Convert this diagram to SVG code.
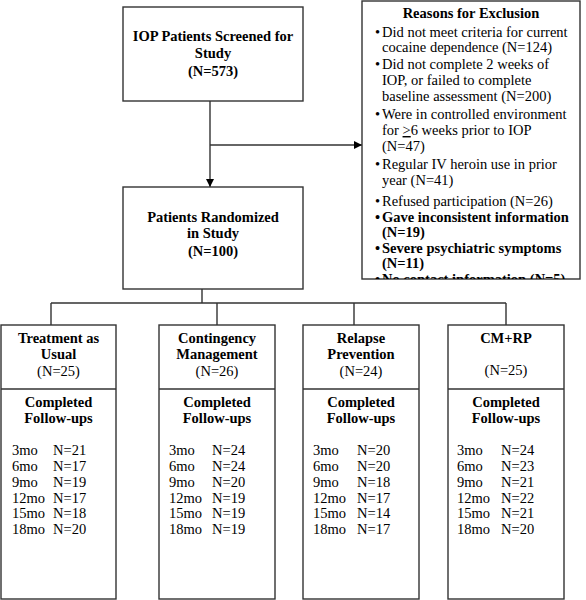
<svg xmlns="http://www.w3.org/2000/svg" width="586" height="600" viewBox="0 0 586 600">
<style>
text{font-family:"Liberation Serif","Times New Roman",serif;font-size:14.5px;fill:#000}
.b{font-weight:bold}
.c{text-anchor:middle}
.box{fill:#fff;stroke:#333;stroke-width:1.4}
.ln{fill:none;stroke:#333;stroke-width:1.4}
</style>
<defs>
<marker id="ah" markerWidth="8" markerHeight="8" refX="8" refY="4" orient="auto" markerUnits="userSpaceOnUse">
<path d="M0,0 L8,4 L0,8 Z" fill="#000"/>
</marker>
<clipPath id="exclip"><rect x="362" y="1" width="218" height="278"/></clipPath>
</defs>
<rect width="586" height="600" fill="#fff"/>

<g id="connectors">
<path class="ln" d="M210,101 V187" marker-end="url(#ah)"/>
<path class="ln" d="M210,145 H362" marker-end="url(#ah)"/>
<path class="ln" d="M202,289 V303 M51,303 H506 M51,303 V325 M217,303 V325 M354,303 V325 M506,303 V325"/>
</g>

<g id="screened">
<rect class="box" x="123" y="7" width="180" height="94"/>
<text class="b c" x="213" y="41">IOP Patients Screened for</text>
<text class="b c" x="213" y="58">Study</text>
<text class="b c" x="213" y="76">(N=573)</text>
</g>

<g id="exclusion">
<rect class="box" x="362" y="1" width="218" height="278"/>
<g clip-path="url(#exclip)">
<text class="b c" x="471" y="18">Reasons for Exclusion</text>
<text x="375" y="37">•</text><text x="382" y="37">Did not meet criteria for current</text>
<text x="382" y="52">cocaine dependence (N=124)</text>
<text x="375" y="69">•</text><text x="382" y="69">Did not complete 2 weeks of</text>
<text x="382" y="85">IOP, or failed to complete</text>
<text x="382" y="101">baseline assessment (N=200)</text>
<text x="375" y="119">•</text><text x="382" y="119">Were in controlled environment</text>
<text x="382" y="135">for <tspan text-decoration="underline">&gt;</tspan>6 weeks prior to IOP</text>
<text x="382" y="151">(N=47)</text>
<text x="375" y="169">•</text><text x="382" y="169">Regular IV heroin use in prior</text>
<text x="382" y="185">year (N=41)</text>
<text x="375" y="206">•</text><text x="382" y="206">Refused participation (N=26)</text>
<text class="b" x="375" y="222">•</text><text class="b" x="382" y="222">Gave inconsistent information</text>
<text class="b" x="382" y="237">(N=19)</text>
<text class="b" x="375" y="253">•</text><text class="b" x="382" y="253">Severe psychiatric symptoms</text>
<text class="b" x="382" y="268">(N=11)</text>
<text class="b" x="375" y="284">•</text><text class="b" x="382" y="284">No contact information (N=5)</text>
</g>
</g>

<g id="randomized">
<rect class="box" x="123" y="187" width="180" height="102"/>
<text class="b c" x="213" y="222">Patients Randomized</text>
<text class="b c" x="213" y="238">in Study</text>
<text class="b c" x="213" y="256">(N=100)</text>
</g>

<g id="tau">
<rect class="box" x="1" y="325" width="115" height="274"/>
<path class="ln" d="M1,389 H116"/>
<text class="b c" x="58.5" y="343">Treatment as</text>
<text class="b c" x="58.5" y="359">Usual</text>
<text class="c" x="58.5" y="376">(N=25)</text>
<text class="b c" x="58.5" y="407">Completed</text>
<text class="b c" x="58.5" y="423">Follow-ups</text>
<text x="12" y="455">3mo</text><text x="53" y="455">N=21</text>
<text x="12" y="471">6mo</text><text x="53" y="471">N=17</text>
<text x="12" y="487">9mo</text><text x="53" y="487">N=19</text>
<text x="12" y="503">12mo</text><text x="53" y="503">N=17</text>
<text x="12" y="518">15mo</text><text x="53" y="518">N=18</text>
<text x="12" y="534">18mo</text><text x="53" y="534">N=20</text>
</g>

<g id="cm">
<rect class="box" x="159" y="325" width="116" height="274"/>
<path class="ln" d="M159,389 H275"/>
<text class="b c" x="217" y="343">Contingency</text>
<text class="b c" x="217" y="359">Management</text>
<text class="c" x="217" y="376">(N=26)</text>
<text class="b c" x="217" y="407">Completed</text>
<text class="b c" x="217" y="423">Follow-ups</text>
<text x="169" y="455">3mo</text><text x="212" y="455">N=24</text>
<text x="169" y="471">6mo</text><text x="212" y="471">N=24</text>
<text x="169" y="487">9mo</text><text x="212" y="487">N=20</text>
<text x="169" y="503">12mo</text><text x="212" y="503">N=19</text>
<text x="169" y="518">15mo</text><text x="212" y="518">N=19</text>
<text x="169" y="534">18mo</text><text x="212" y="534">N=19</text>
</g>

<g id="rp">
<rect class="box" x="303" y="325" width="116" height="274"/>
<path class="ln" d="M303,389 H419"/>
<text class="b c" x="361" y="343">Relapse</text>
<text class="b c" x="361" y="359">Prevention</text>
<text class="c" x="361" y="376">(N=24)</text>
<text class="b c" x="361" y="407">Completed</text>
<text class="b c" x="361" y="423">Follow-ups</text>
<text x="313" y="455">3mo</text><text x="357" y="455">N=20</text>
<text x="313" y="471">6mo</text><text x="357" y="471">N=20</text>
<text x="313" y="487">9mo</text><text x="357" y="487">N=18</text>
<text x="313" y="503">12mo</text><text x="357" y="503">N=17</text>
<text x="313" y="518">15mo</text><text x="357" y="518">N=14</text>
<text x="313" y="534">18mo</text><text x="357" y="534">N=17</text>
</g>

<g id="cmrp">
<rect class="box" x="448" y="325" width="116" height="274"/>
<path class="ln" d="M448,389 H564"/>
<text class="b c" x="506" y="343">CM+RP</text>
<text class="c" x="506" y="375">(N=25)</text>
<text class="b c" x="506" y="407">Completed</text>
<text class="b c" x="506" y="423">Follow-ups</text>
<text x="457" y="455">3mo</text><text x="501" y="455">N=24</text>
<text x="457" y="471">6mo</text><text x="501" y="471">N=23</text>
<text x="457" y="487">9mo</text><text x="501" y="487">N=21</text>
<text x="457" y="503">12mo</text><text x="501" y="503">N=22</text>
<text x="457" y="518">15mo</text><text x="501" y="518">N=21</text>
<text x="457" y="534">18mo</text><text x="501" y="534">N=20</text>
</g>
</svg>
